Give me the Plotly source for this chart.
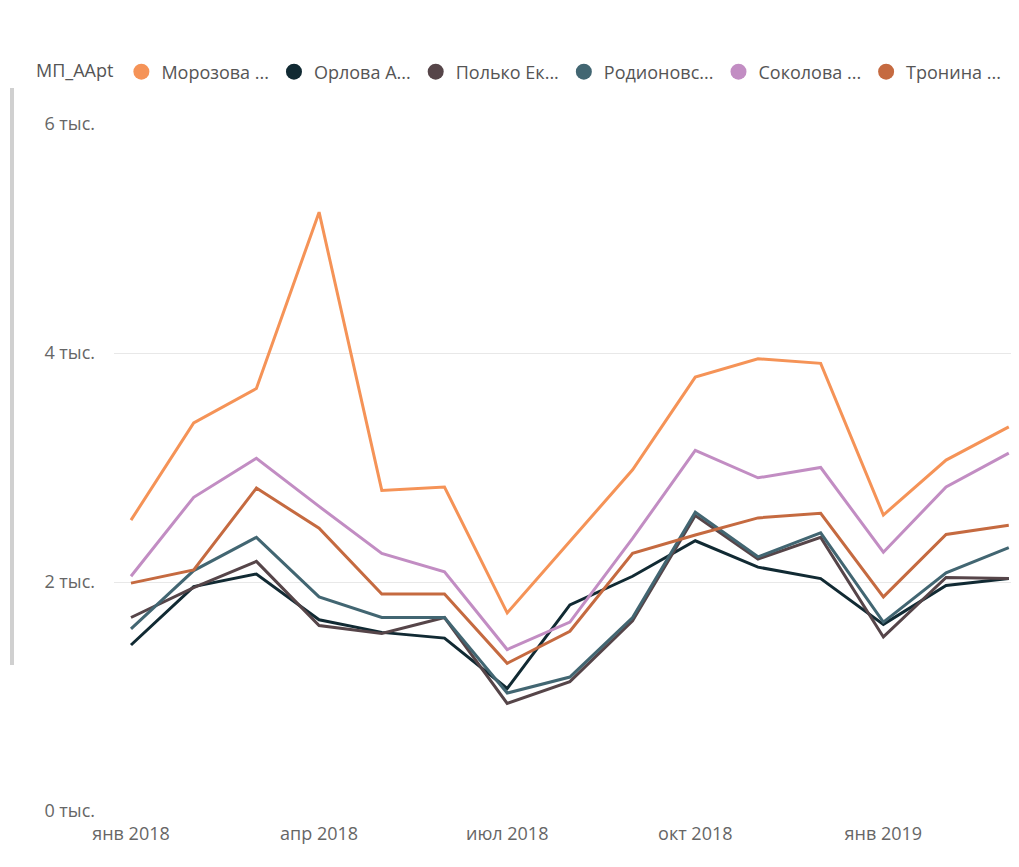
import plotly.graph_objects as go

months = ["2018-01", "2018-02", "2018-03", "2018-04", "2018-05", "2018-06", "2018-07",
          "2018-08", "2018-09", "2018-10", "2018-11", "2018-12", "2019-01", "2019-02", "2019-03"]
tick_months = ["2018-01", "2018-04", "2018-07", "2018-10", "2019-01"]
tick_month_labels = ["янв 2018", "апр 2018", "июл 2018", "окт 2018", "янв 2019"]

y_tickvals = [0, 2000, 4000, 6000]
y_ticktext = ["0 тыс.", "2 тыс.", "4 тыс.", "6 тыс."]

legend_title = "МП_AApt"
names = ["Морозова ...", "Орлова А...", "Полько Ек...", "Родионовс...", "Соколова ...", "Тронина ..."]

morozova = [2540, 3390, 3690, 5230, 2800, 2830, 1730, 2360, 2980, 3790, 3950, 3910, 2585, 3065, 3355]
orlova = [1450, 1960, 2070, 1670, 1560, 1510, 1070, 1800, 2050, 2360, 2130, 2030, 1630, 1970, 2030]
polko = [1690, 1950, 2180, 1620, 1550, 1690, 940, 1130, 1660, 2580, 2200, 2390, 1520, 2040, 2030]
rodionovskaya = [1590, 2100, 2390, 1870, 1690, 1690, 1030, 1170, 1690, 2610, 2220, 2430, 1650, 2080, 2300]
sokolova = [2050, 2740, 3080, 2660, 2250, 2090, 1410, 1650, 2380, 3150, 2910, 3000, 2260, 2830, 3125]
tronina = [1990, 2105, 2820, 2470, 1895, 1895, 1290, 1570, 2250, 2410, 2560, 2600, 1870, 2415, 2495]

series = [morozova, orlova, polko, rodionovskaya, sokolova, tronina]
colors = ["#F59357", "#112A33", "#564549", "#426672", "#C28DC3", "#C56A40"]

x_idx = list(range(len(months)))
tickvals = [months.index(m) for m in tick_months]

FONT = "Open Sans, Lato, sans-serif"

# the page body adds an 8px offset; compensate so the plot lands where the reference has it
W, H = 1011, 859

fig = go.Figure()
for name, vals, col in zip(names, series, colors):
    fig.add_trace(go.Scatter(x=x_idx, y=vals, mode="lines", name=name,
                             line=dict(color=col, width=3), showlegend=False))
for name, col in zip(names, colors):
    fig.add_trace(go.Scatter(x=[None], y=[None], mode="markers", name=name,
                             marker=dict(color=col, size=16, symbol="circle")))

fig.update_layout(
    width=W, height=H,
    margin=dict(l=106, r=0, t=116, b=56),
    paper_bgcolor="white", plot_bgcolor="white",
    font=dict(family=FONT, size=18, color="#666666"),
    showlegend=True,
    legend=dict(orientation="h", x=26/W, xref="container", xanchor="left",
                y=1-64/H, yref="container", yanchor="middle",
                title=dict(text=legend_title, font=dict(color="#555555", size=18)),
                font=dict(size=18, color="#555555"),
                itemwidth=30,
                bgcolor="rgba(0,0,0,0)"),
    xaxis=dict(range=[-0.271, 14.163], tickmode="array", tickvals=tickvals,
               ticktext=tick_month_labels, showgrid=False, zeroline=False,
               showline=False, ticks="", ticklabelstandoff=10,
               tickfont=dict(size=18, color="#666666")),
    yaxis=dict(range=[0, 6000], tickmode="array", tickvals=y_tickvals,
               ticktext=y_ticktext, showgrid=True, gridcolor="#E8E8E8", gridwidth=1,
               zeroline=False, showline=False, ticks="", ticklabelstandoff=18,
               tickfont=dict(size=18, color="#666666")),
    shapes=[dict(type="line", xref="paper", yref="paper",
                 x0=(12-114)/905, x1=(12-114)/905,
                 y0=(811-665)/687, y1=(811-88)/687,
                 line=dict(color="#D0D0D0", width=4))],
    hovermode=False,
)

fig.write_html("out.html")
